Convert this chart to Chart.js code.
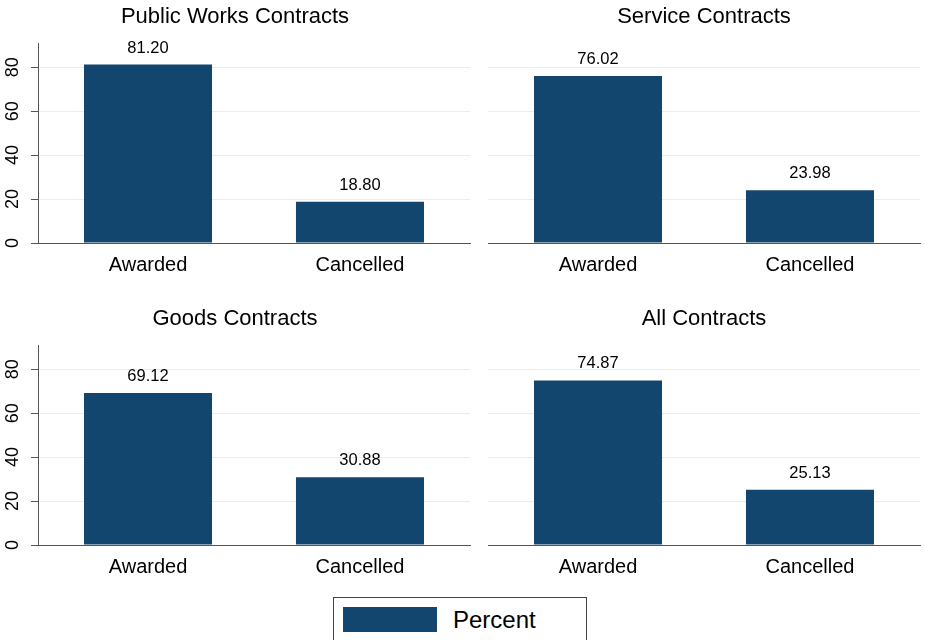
<!DOCTYPE html>
<html>
<head>
<meta charset="utf-8">
<script src="https://cdn.jsdelivr.net/npm/chart.js@4.4.0/dist/chart.umd.min.js"></script>
<style>
    body { margin: 0; background: #fff; font-family: "Liberation Sans", Arial, sans-serif; }
    #wrap { position: relative; width: 925px; height: 640px; overflow: hidden; }
    .panel { position: absolute; }
    #legend { position: absolute; left: 333px; top: 597px; width: 254px; height: 50px;
              border: 1px solid #444; box-sizing: border-box; }
    #legend .sw { position: absolute; left: 9px; top: 9px; width: 94px; height: 25px; background: #13466e; }
    #legend .lb { position: absolute; left: 119px; top: 8px; font-size: 24px; line-height: 27px; color: #000; }
</style>
</head>
<body>
<div id="wrap">
    <div class="panel" style="left:0;top:0"><canvas id="c1" width="475" height="290"></canvas></div>
    <div class="panel" style="left:488px;top:0"><canvas id="c2" width="437" height="290"></canvas></div>
    <div class="panel" style="left:0;top:302px"><canvas id="c3" width="475" height="290"></canvas></div>
    <div class="panel" style="left:488px;top:302px"><canvas id="c4" width="437" height="290"></canvas></div>
    <div id="legend"><div class="sw"></div><div class="lb">Percent</div></div>
</div>
<script>
// du lieu doc tu hinh
var categories = ['Awarded', 'Cancelled'];
var panelTitles = ['Public Works Contracts', 'Service Contracts', 'Goods Contracts', 'All Contracts'];
var publicWorks = [81.20, 18.80];
var service = [76.02, 23.98];
var goods = [69.12, 30.88];
var allContracts = [74.87, 25.13];
var yTicks = [0, 20, 40, 60, 80];
var seriesLabel = 'Percent';

var barColor = '#13466e';
var fontFamily = '"Liberation Sans", Arial, sans-serif';

// ve so tren dau cot
var valueLabels = {
    id: 'valueLabels',
    afterDatasetsDraw: function (chart) {
        var ctx = chart.ctx;
        var meta = chart.getDatasetMeta(0);
        ctx.save();
        ctx.font = '16.5px ' + fontFamily;
        ctx.fillStyle = '#000';
        ctx.textAlign = 'center';
        ctx.textBaseline = 'alphabetic';
        meta.data.forEach(function (bar, i) {
            var v = chart.data.datasets[0].data[i].y;
            ctx.fillText(v.toFixed(2), bar.x, bar.y - 12);
        });
        ctx.restore();
    }
};

// nhan truc y xoay doc
var rotatedTicks = {
    id: 'rotatedTicks',
    afterDraw: function (chart) {
        if (!chart.options.plugins.rotatedTicks.show) return;
        var ctx = chart.ctx;
        var sc = chart.scales.y;
        ctx.save();
        ctx.font = '18px ' + fontFamily;
        ctx.fillStyle = '#000';
        ctx.textAlign = 'center';
        ctx.textBaseline = 'middle';
        sc.ticks.forEach(function (t) {
            var y = sc.getPixelForValue(t.value);
            ctx.save();
            ctx.translate(13, y);
            ctx.rotate(-Math.PI / 2);
            ctx.fillText(String(t.value), 0, 0);
            ctx.restore();
        });
        ctx.restore();
    }
};

function veBieuDo(id, title, values, showY) {
    var ctx = document.getElementById(id).getContext('2d');
    var points = values.map(function (v, i) { return { x: i, y: v }; });
    return new Chart(ctx, {
        type: 'bar',
        data: {
            datasets: [{
                label: seriesLabel,
                data: points,
                backgroundColor: barColor,
                borderWidth: 0,
                categoryPercentage: 1,
                barPercentage: 0.604
            }]
        },
        options: {
            responsive: false,
            animation: false,
            layout: { padding: { left: 0, right: 5, top: 0, bottom: 0 } },
            plugins: {
                legend: { display: false },
                tooltip: { enabled: false },
                title: {
                    display: true,
                    text: title,
                    color: '#000',
                    font: { family: fontFamily, size: 22, weight: 'normal', lineHeight: 1.2 },
                    padding: { top: 4, bottom: 12.6 }
                },
                rotatedTicks: { show: showY }
            },
            scales: {
                x: {
                    type: 'linear',
                    min: -0.519,
                    max: 1.519,
                    offset: false,
                    afterBuildTicks: function (s) {
                        s.ticks = categories.map(function (c, i) { return { value: i }; });
                    },
                    grid: { display: false, drawTicks: false },
                    border: { display: true, color: '#555', width: 1 },
                    ticks: {
                        color: '#000', padding: 10,
                        font: { family: fontFamily, size: 20 },
                        callback: function (v) { return categories[v]; }
                    },
                    afterFit: function (s) { s.height = 47; }
                },
                y: {
                    min: 0,
                    max: 91,
                    afterBuildTicks: function (s) {
                        s.ticks = yTicks.map(function (v) { return { value: v }; });
                    },
                    grid: {
                        color: '#e4eff3',
                        lineWidth: 1,
                        drawTicks: showY,
                        tickLength: 7,
                        tickColor: '#555'
                    },
                    border: { display: showY, color: '#555', width: 1 },
                    ticks: { display: false },
                    afterFit: function (s) { s.width = showY ? 38 : 0; }
                }
            }
        },
        plugins: [valueLabels, rotatedTicks]
    });
}

veBieuDo('c1', panelTitles[0], publicWorks, true);
veBieuDo('c2', panelTitles[1], service, false);
veBieuDo('c3', panelTitles[2], goods, true);
veBieuDo('c4', panelTitles[3], allContracts, false);
</script>
</body>
</html>
